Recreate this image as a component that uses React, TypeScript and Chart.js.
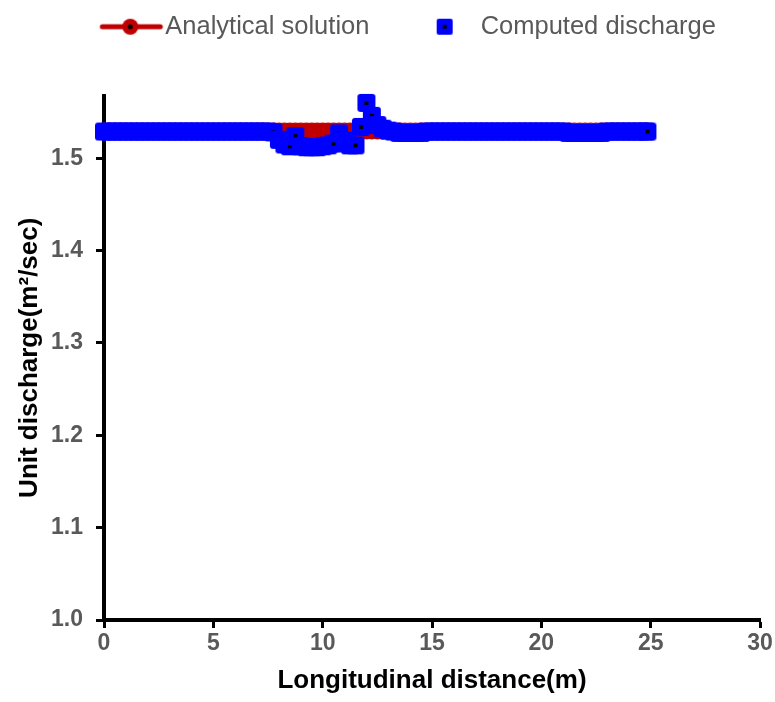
import { useEffect, useRef } from "react";
import { Chart, registerables } from "chart.js";

Chart.register(...registerables);

// Longitudinal distance (m)
const distanceM = [
  0, 0.25, 0.5, 0.75, 1, 1.25, 1.5, 1.75, 2, 2.25,
  2.5, 2.75, 3, 3.25, 3.5, 3.75, 4, 4.25, 4.5, 4.75,
  5, 5.25, 5.5, 5.75, 6, 6.25, 6.5, 6.75, 7, 7.25,
  7.5, 7.75, 8, 8.25, 8.5, 8.75, 9, 9.25, 9.5, 9.75,
  10, 10.25, 10.5, 10.75, 11, 11.25, 11.5, 11.75, 12, 12.25,
  12.5, 12.75, 13, 13.25, 13.5, 13.75, 14, 14.25, 14.5, 14.75,
  15, 15.25, 15.5, 15.75, 16, 16.25, 16.5, 16.75, 17, 17.25,
  17.5, 17.75, 18, 18.25, 18.5, 18.75, 19, 19.25, 19.5, 19.75,
  20, 20.25, 20.5, 20.75, 21, 21.25, 21.5, 21.75, 22, 22.25,
  22.5, 22.75, 23, 23.25, 23.5, 23.75, 24, 24.25, 24.5, 24.75,
  24.85,
];

// Computed discharge (m2/sec)
const computedQ = [
  1.529, 1.529, 1.529, 1.529, 1.529, 1.529, 1.529, 1.529, 1.529, 1.529,
  1.529, 1.529, 1.529, 1.529, 1.529, 1.529, 1.529, 1.529, 1.529, 1.529,
  1.529, 1.529, 1.529, 1.529, 1.529, 1.529, 1.529, 1.529, 1.529, 1.529,
  1.529, 1.528, 1.52, 1.515, 1.513, 1.524, 1.513, 1.512, 1.512, 1.512,
  1.513, 1.514, 1.516, 1.527, 1.519, 1.514, 1.514, 1.534, 1.56, 1.546,
  1.536, 1.532, 1.53, 1.529, 1.5275, 1.5275, 1.5275, 1.5275, 1.5275, 1.529,
  1.529, 1.529, 1.529, 1.529, 1.529, 1.529, 1.529, 1.529, 1.529, 1.529,
  1.529, 1.529, 1.529, 1.529, 1.529, 1.529, 1.529, 1.529, 1.529, 1.529,
  1.529, 1.529, 1.529, 1.529, 1.529, 1.5275, 1.5275, 1.5275, 1.5275, 1.5275,
  1.5275, 1.5275, 1.529, 1.529, 1.529, 1.529, 1.529, 1.529, 1.529, 1.529,
  1.529,
];

// Analytical solution (m2/sec)
const analyticalQ = [
  1.5295, 1.5295, 1.5295, 1.5295, 1.5295, 1.5295, 1.5295, 1.5295, 1.5295, 1.5295,
  1.5295, 1.5295, 1.5295, 1.5295, 1.5295, 1.5295, 1.5295, 1.5295, 1.5295, 1.5295,
  1.5295, 1.5295, 1.5295, 1.5295, 1.5295, 1.5295, 1.5295, 1.5295, 1.5295, 1.5295,
  1.5295, 1.5295, 1.5295, 1.5295, 1.5295, 1.5295, 1.5295, 1.5295, 1.5295, 1.5295,
  1.5295, 1.5295, 1.5295, 1.5295, 1.5295, 1.5295, 1.5295, 1.5295, 1.5295, 1.5295,
  1.5295, 1.5295, 1.5295, 1.5295, 1.5295, 1.5295, 1.5295, 1.5295, 1.5295, 1.5295,
  1.5295, 1.5295, 1.5295, 1.5295, 1.5295, 1.5295, 1.5295, 1.5295, 1.5295, 1.5295,
  1.5295, 1.5295, 1.5295, 1.5295, 1.5295, 1.5295, 1.5295, 1.5295, 1.5295, 1.5295,
  1.5295, 1.5295, 1.5295, 1.5295, 1.5295, 1.5295, 1.5295, 1.5295, 1.5295, 1.5295,
  1.5295, 1.5295, 1.5295, 1.5295, 1.5295, 1.5295, 1.5295, 1.5295, 1.5295, 1.5295,
  1.5295,
];

const seriesLabels = ["Analytical solution", "Computed discharge"];
const xTitle = "Longitudinal distance(m)";
const yTitle = "Unit discharge(m\u00B2/sec)";

const RED = "#C00000";
const BLUE = "#0000FF";
const FONT = "'Liberation Sans', Arial, Helvetica, sans-serif";

function makeCanvas(w: number, h: number) {
  const c = document.createElement("canvas");
  c.width = w;
  c.height = h;
  return c;
}

function blueMarker(size: number) {
  const c = makeCanvas(size, size);
  const ctx = c.getContext("2d")!;
  ctx.fillStyle = BLUE;
  ctx.beginPath();
  (ctx as any).roundRect(1, 1, size - 2, size - 2, 3);
  ctx.fill();
  ctx.fillStyle = "#000";
  ctx.fillRect(size / 2 - 2, size / 2 - 2, 4, 4);
  return c;
}

function redMarker(size: number) {
  const c = makeCanvas(size, size);
  const ctx = c.getContext("2d")!;
  ctx.fillStyle = RED;
  ctx.beginPath();
  ctx.arc(size / 2, size / 2, size / 2 - 0.5, 0, Math.PI * 2);
  ctx.fill();
  ctx.fillStyle = "#000";
  ctx.beginPath();
  ctx.arc(size / 2, size / 2, 2, 0, Math.PI * 2);
  ctx.fill();
  return c;
}

function analyticalLegend() {
  const c = makeCanvas(120, 24);
  const ctx = c.getContext("2d")!;
  ctx.strokeStyle = RED;
  ctx.lineWidth = 5;
  ctx.lineCap = "round";
  ctx.beginPath();
  ctx.moveTo(56, 12);
  ctx.lineTo(114, 12);
  ctx.stroke();
  ctx.fillStyle = RED;
  ctx.beginPath();
  ctx.arc(84, 12, 8, 0, Math.PI * 2);
  ctx.fill();
  ctx.fillStyle = "#000";
  ctx.beginPath();
  ctx.arc(84, 12, 2.5, 0, Math.PI * 2);
  ctx.fill();
  return c;
}

function computedLegend() {
  const c = makeCanvas(120, 24);
  const ctx = c.getContext("2d")!;
  ctx.fillStyle = BLUE;
  ctx.beginPath();
  (ctx as any).roundRect(75, 4, 16, 16, 2);
  ctx.fill();
  ctx.fillStyle = "#000";
  ctx.fillRect(81, 10, 4, 4);
  return c;
}

export default function App() {
  const ref = useRef<HTMLCanvasElement | null>(null);

  useEffect(() => {
    document.body.style.margin = "0";
    const canvas = ref.current;
    if (!canvas) return;

    const legendImgs = [analyticalLegend(), computedLegend()];

    const chart = new Chart(canvas, {
      type: "scatter",
      data: {
        datasets: [
          {
            label: seriesLabels[0],
            data: distanceM.map((x, i) => ({ x, y: analyticalQ[i] })),
            showLine: true,
            borderColor: RED,
            backgroundColor: RED,
            borderWidth: 5,
            pointStyle: redMarker(18) as any,
            pointRadius: 9,
            order: 1,
            clip: false as any,
          },
          {
            label: seriesLabels[1],
            data: distanceM.map((x, i) => ({ x, y: computedQ[i] })),
            showLine: false,
            borderColor: BLUE,
            backgroundColor: BLUE,
            pointStyle: blueMarker(20) as any,
            pointRadius: 10,
            order: 0,
            clip: false as any,
          },
        ],
      },
      options: {
        animation: false,
        responsive: false,
        devicePixelRatio: 1,
        layout: { padding: { top: 8, left: 16, right: 15, bottom: 0 } },
        plugins: {
          tooltip: { enabled: false },
          legend: {
            display: true,
            position: "top",
            align: "center",
            labels: {
              usePointStyle: true,
              pointStyleWidth: 92.5,
              padding: 6,
              color: "#595959",
              font: { family: FONT, size: 25.5, weight: "normal" },
              generateLabels: () =>
                seriesLabels.map((t, i) => ({
                  text: t,
                  datasetIndex: i,
                  pointStyle: legendImgs[i] as any,
                  fillStyle: i === 0 ? RED : BLUE,
                  strokeStyle: i === 0 ? RED : BLUE,
                  lineWidth: 0,
                  hidden: false,
                  fontColor: "#595959",
                })),
            },
          },
          subtitle: {
            display: true,
            text: "",
            weight: 500,
            font: { size: 10, lineHeight: 1 },
            padding: { top: 0, bottom: 36 },
          } as any,
        },
        scales: {
          x: {
            type: "linear",
            min: 0,
            max: 30,
            afterFit: (s: any) => {
              s.height = 82;
            },
            ticks: {
              stepSize: 5,
              padding: 2,
              color: "#595959",
              font: { family: FONT, size: 23, weight: "bold" },
              callback: (v: any) => String(v),
            },
            grid: {
              drawOnChartArea: false,
              drawTicks: true,
              tickLength: 8,
              tickWidth: 3,
              tickColor: "#000",
            },
            border: { display: true, color: "#000", width: 4 },
            title: {
              display: true,
              text: xTitle,
              color: "#000",
              font: { family: FONT, size: 26, weight: "bold" },
              padding: { top: 0, bottom: 6 },
            },
          },
          y: {
            type: "linear",
            min: 1.0,
            max: 1.568,
            afterFit: (s: any) => {
              s.width = 88;
            },
            ticks: {
              stepSize: 0.1,
              includeBounds: false,
              padding: 13,
              color: "#595959",
              font: { family: FONT, size: 23, weight: "bold" },
              callback: (v: any) => Number(v).toFixed(1),
            },
            grid: {
              drawOnChartArea: false,
              drawTicks: true,
              tickLength: 8,
              tickWidth: 3,
              tickColor: "#000",
            },
            border: { display: true, color: "#000", width: 4 },
            title: {
              display: true,
              text: yTitle,
              color: "#000",
              font: { family: FONT, size: 26, weight: "bold", lineHeight: 1.1 },
              padding: { top: 0, bottom: 0 },
            },
          },
        },
      },
    } as any);

    return () => chart.destroy();
  }, []);

  return (
    <div style={{ position: "fixed", left: 0, top: 0, width: 775, height: 702, background: "#fff" }}>
      <canvas ref={ref} width={775} height={702} style={{ width: 775, height: 702 }} />
    </div>
  );
}
